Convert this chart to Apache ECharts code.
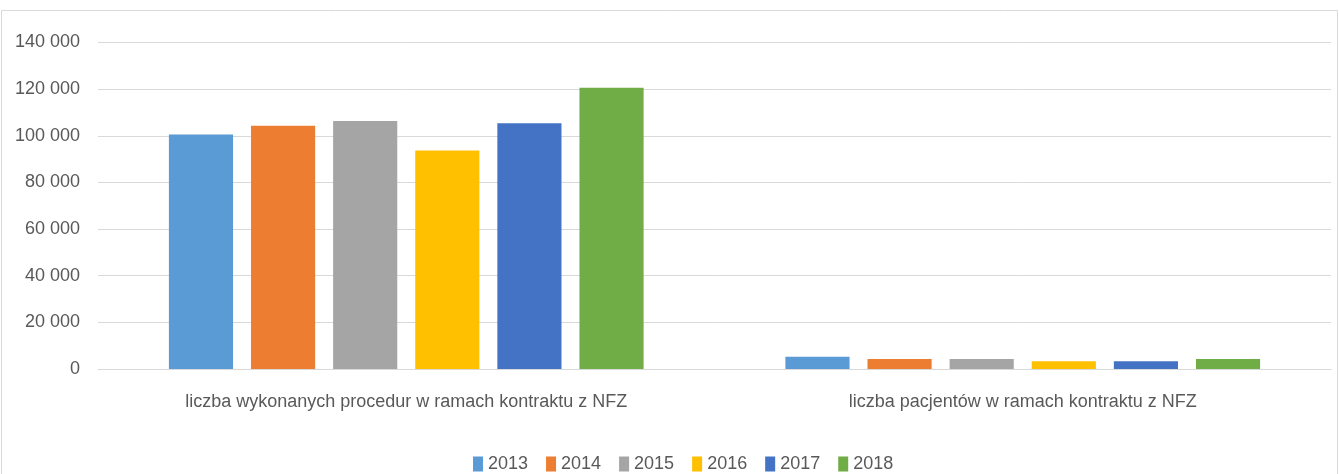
<!DOCTYPE html>
<html>
<head>
<meta charset="utf-8">
<style>
  html, body { margin: 0; padding: 0; background: #fff; }
  #chart { width: 1339px; height: 474px; }
</style>
<script src="https://cdn.jsdelivr.net/npm/echarts@6/dist/echarts.min.js"></script>
</head>
<body>
<div id="chart"></div>
<script>
// Categories on the x axis
const categories = [
  'liczba wykonanych procedur w ramach kontraktu z NFZ',
  'liczba pacjentów w ramach kontraktu z NFZ'
];

// One series per year
const years = ['2013', '2014', '2015', '2016', '2017', '2018'];
const colors = ['#5B9BD5', '#ED7D31', '#A5A5A5', '#FFC000', '#4472C4', '#70AD47'];

const values2013 = [100500, 5300];
const values2014 = [104300, 4300];
const values2015 = [106300, 4300];
const values2016 = [93700, 3300];
const values2017 = [105400, 3300];
const values2018 = [120600, 4300];

const seriesValues = [values2013, values2014, values2015, values2016, values2017, values2018];

const FONT = '"Liberation Sans", Arial, sans-serif';
const TEXT = '#595959';
const GRID = '#d9d9d9';

function formatThousands(v) {
  return String(v).replace(/\B(?=(\d{3})+(?!\d))/g, ' ');
}

const chart = echarts.init(document.getElementById('chart'), null, { renderer: 'canvas' });

chart.setOption({
  backgroundColor: '#ffffff',
  animation: false,
  textStyle: { fontFamily: FONT },
  // chart frame
  graphic: [{
    type: 'rect',
    shape: { x: 1.5, y: 10.5, width: 1336, height: 480 },
    style: { fill: 'none', stroke: GRID, lineWidth: 1 },
    silent: true,
    z: -1
  }],
  grid: { left: 98, right: 8, top: 42.5, bottom: 105, containLabel: false },
  legend: {
    data: years,
    left: 473,
    top: 455,
    padding: 0,
    itemWidth: 10,
    itemHeight: 15,
    itemGap: 18,
    icon: 'rect',
    textStyle: { color: TEXT, fontSize: 18, fontFamily: FONT }
  },
  xAxis: {
    type: 'category',
    data: categories,
    axisLine: { lineStyle: { color: GRID, width: 1 } },
    axisTick: { show: false },
    axisLabel: { color: TEXT, fontSize: 18, fontFamily: FONT, margin: 24, interval: 0 }
  },
  yAxis: {
    type: 'value',
    min: 0,
    max: 140000,
    interval: 20000,
    axisLine: { show: false },
    axisTick: { show: false },
    splitLine: { lineStyle: { color: GRID, width: 1 } },
    axisLabel: {
      color: TEXT, fontSize: 18, fontFamily: FONT, margin: 18,
      formatter: formatThousands
    }
  },
  series: years.map((y, i) => ({
    name: y,
    type: 'bar',
    data: seriesValues[i],
    itemStyle: { color: colors[i] },
    barGap: '28%',
    barCategoryGap: '23%'
  }))
});
</script>
</body>
</html>
